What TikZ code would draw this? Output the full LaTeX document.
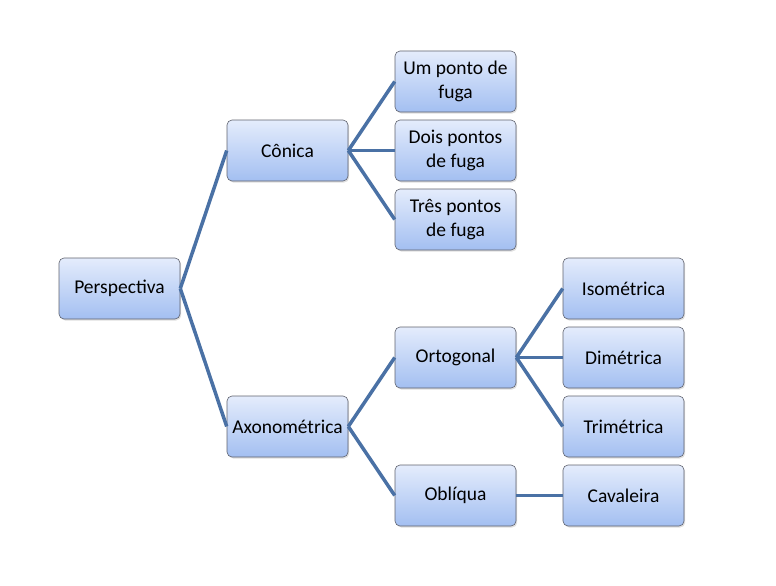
\documentclass[tikz,border=0pt]{standalone}
\usepackage{fontspec}
\setmainfont{Carlito}
\usetikzlibrary{shadows}
\definecolor{linkblue}{RGB}{74,113,165}
\definecolor{boxtop}{RGB}{228,236,252}
\definecolor{boxbottom}{RGB}{163,191,241}
\definecolor{boxline}{RGB}{95,98,110}

\begin{document}
\begin{tikzpicture}[x=1pt,y=1pt]
            \useasboundingbox (0,0) rectangle (776,-586);
            \tikzstyle{every node}=[draw=boxline, line width=0.6pt, rounded corners=5pt,
                top color=boxtop, bottom color=boxbottom,
                drop shadow={opacity=0.25, shadow xshift=1.2pt, shadow yshift=-1.5pt},
                minimum width=121pt, minimum height=61pt, inner sep=2pt,
                align=center, font=\fontsize{19.5}{23.5}\selectfont];
            \tikzstyle{edge from parent}=[draw=linkblue, line width=3.5pt];
            \node (persp) at (119.5,-288.5) {Perspectiva}[grow'=right, level distance=168pt,
                sibling distance=276pt,
                edge from parent path={(\tikzparentnode.east) -- (\tikzchildnode.west)}]
            child { node (conica) {Cônica}[sibling distance=69pt]
                child {node (um) {Um ponto de\\fuga}}
                child {node (dois) {Dois pontos\\de fuga}}
                child {node (tres) {Três pontos\\de fuga}}
            }
            child { node (axono) {Axonométrica}[sibling distance=138pt]
                child { node (orto) {Ortogonal}[sibling distance=69pt]
                    child {node (iso) {Isométrica}}
                    child {node (dime) {Dimétrica}}
                    child {node (trime) {Trimétrica}}
                }
                child { node (obliq) {Oblíqua}
                    child {node (cava) {Cavaleira}}
                }
            };
        \end{tikzpicture}
\end{document}
